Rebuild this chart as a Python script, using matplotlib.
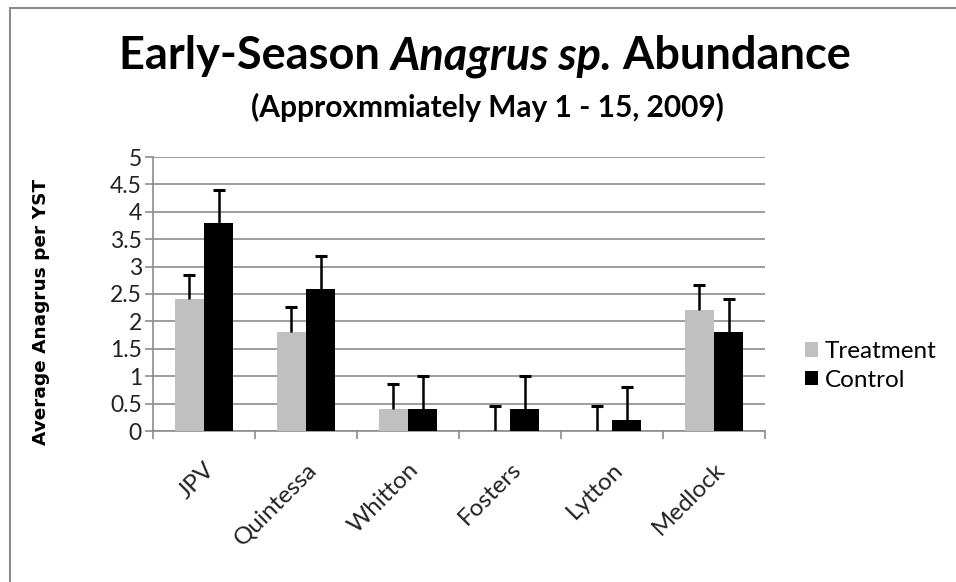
import matplotlib
matplotlib.use('Agg')
import matplotlib.pyplot as plt
import numpy as np
from matplotlib.patches import Rectangle

sites = ['JPV', 'Quintessa', 'Whitton', 'Fosters', 'Lytton', 'Medlock']
treatment = [2.4, 1.8, 0.4, 0.0, 0.0, 2.2]
control = [3.8, 2.6, 0.4, 0.4, 0.2, 1.8]
treatment_err = [0.45, 0.47, 0.45, 0.45, 0.45, 0.47]
control_err = [0.6, 0.6, 0.6, 0.6, 0.6, 0.6]

FONT = 'Lato'
W, H = 956, 582

fig = plt.figure(figsize=(W / 100, H / 100), dpi=100)
fig.patch.set_facecolor('white')

# outer chart frame (only left and top edges visible)
fig.patches.append(Rectangle((10 / W, -0.5), 2, 1.5 - 8 / H, transform=fig.transFigure,
                             fill=False, edgecolor='#8c8c8c', linewidth=1.5))

ax = fig.add_axes([153 / W, 1 - 431 / H, 612 / W, 274 / H])

x = np.arange(len(sites))
bw = 0.285
ax.bar(x - bw / 2, treatment, bw, color='#c0c0c0', label='Treatment', zorder=3)
ax.bar(x + bw / 2, control, bw, color='black', label='Control', zorder=3)

# plus-only error bars: stem + cap on top
for pos, vals, errs in [(x - bw / 2, treatment, treatment_err), (x + bw / 2, control, control_err)]:
    vals = np.array(vals)
    tops = vals + np.array(errs)
    ax.vlines(pos, vals, tops, color='black', linewidth=1.8, zorder=4)
    ax.plot(pos, tops, linestyle='none', marker='_', markersize=9, markeredgewidth=2.2,
            color='black', zorder=4)

ax.set_xlim(-0.5, len(sites) - 0.5)
ax.set_ylim(0, 5)
ax.set_yticks(np.arange(0, 5.01, 0.5))
ax.set_yticklabels(['0', '0.5', '1', '1.5', '2', '2.5', '3', '3.5', '4', '4.5', '5'],
                   fontsize=16.5, family=FONT, color='#222222')
ax.yaxis.grid(True, color='#8c8c8c', linewidth=1.2, zorder=0)
ax.set_axisbelow(True)

ax.set_xticks(np.arange(-0.5, len(sites), 1.0))
ax.set_xticklabels([])
ax.set_xticks(x, minor=True)
ax.set_xticklabels(sites, minor=True, rotation=45, ha='right', va='top',
                   rotation_mode='anchor', fontsize=17.5, family=FONT, color='#222222')
ax.tick_params(axis='x', which='minor', length=0, pad=20)
ax.tick_params(axis='x', which='major', length=6, color='#8c8c8c', width=1.2)
ax.tick_params(axis='y', length=6, color='#8c8c8c', width=1.2, pad=2)

for s in ['top', 'right']:
    ax.spines[s].set_visible(False)
for s in ['left', 'bottom']:
    ax.spines[s].set_color('#8c8c8c')
    ax.spines[s].set_linewidth(1.2)

ax.set_ylabel('Average Anagrus per YST', fontsize=13.3, fontweight='bold',
              family='DejaVu Sans')
ax.yaxis.set_label_coords((50 - 153) / 612, (431 - 312) / 274)

fig.legend(*ax.get_legend_handles_labels(), loc='center left',
           bbox_to_anchor=(805 / W, 1 - 366 / H), frameon=False,
           prop={'family': FONT, 'size': 17.5}, handlelength=0.55, handleheight=0.55,
           handletextpad=0.25, labelspacing=0.3, borderpad=0, borderaxespad=0)

# title with italic part, centred as a whole
parts = [('Early-Season ', 'normal'), ('Anagrus sp.', 'italic'), (' Abundance', 'normal')]
renderer = fig.canvas.get_renderer()
texts = []
for s, style in parts:
    t = fig.text(0, 1 - 69 / H, s, fontsize=32.5, fontweight='bold', style=style,
                 family=FONT, va='baseline', ha='left')
    texts.append(t)
widths = [t.get_window_extent(renderer).width for t in texts]
x0 = 485 - sum(widths) / 2
for t, wd in zip(texts, widths):
    t.set_x(x0 / W)
    x0 += wd

fig.text(487 / W, 1 - 117 / H, '(Approxmmiately May 1 - 15, 2009)', fontsize=21.5,
         fontweight='bold', family=FONT, ha='center', va='baseline')

fig.savefig('out.png', dpi=100)
